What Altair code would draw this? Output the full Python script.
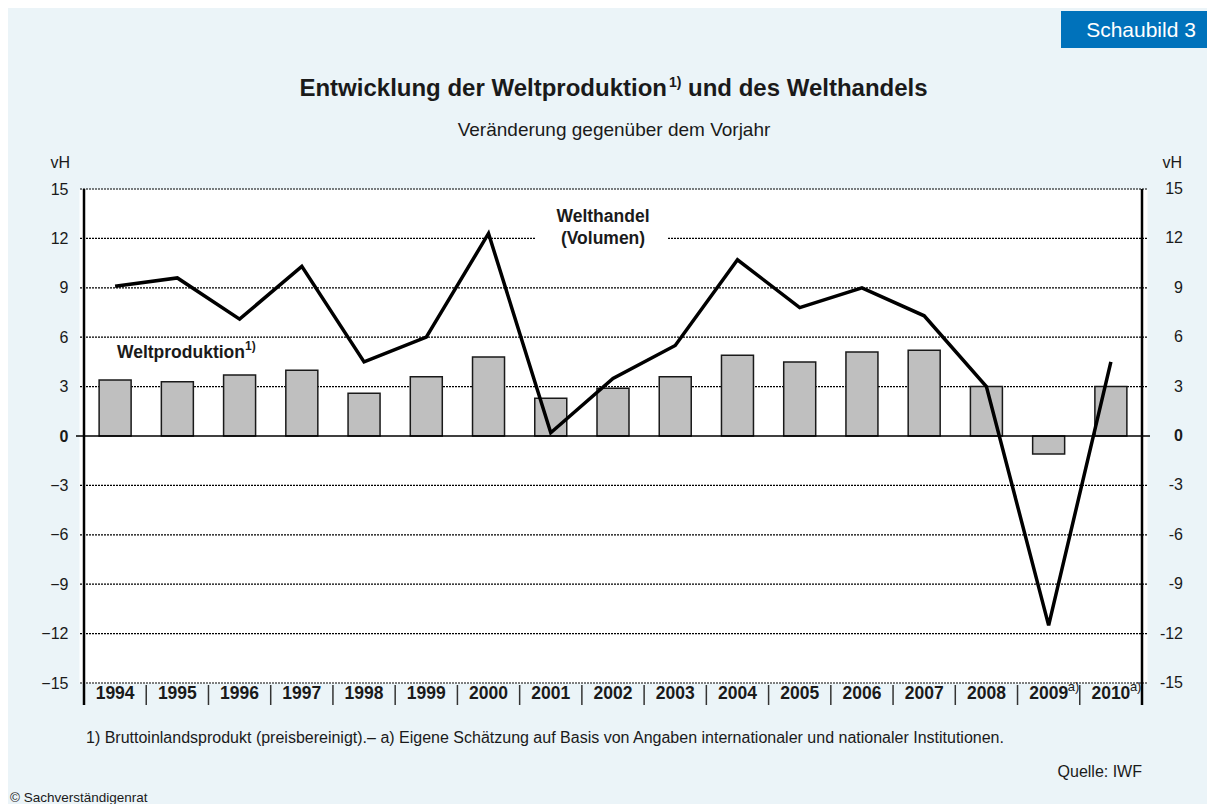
import altair as alt
import pandas as pd

# ---------------- data ----------------
years = list(range(1994, 2011))
year_labels = [str(y) for y in years]
weltproduktion = [3.4, 3.3, 3.7, 4.0, 2.6, 3.6, 4.8, 2.3, 2.9, 3.6, 4.9, 4.5, 5.1, 5.2, 3.0, -1.1, 3.0]
welthandel = [9.1, 9.6, 7.1, 10.3, 4.5, 6.0, 12.3, 0.2, 3.5, 5.5, 10.7, 7.8, 9.0, 7.3, 3.0, -11.5, 4.5]
estimated_years = [2009, 2010]
y_ticks = [15, 12, 9, 6, 3, 0, -3, -6, -9, -12, -15]
grid_values = [15, 12, 9, 6, 3, -3, -6, -9, -12, -15]

FONT = "Liberation Sans"
INK = "#1a1a1a"
BG = "#EBF4F8"

df = pd.DataFrame({"year": years, "label": year_labels,
                   "prod": weltproduktion, "trade": welthandel})

xscale = alt.Scale(domain=[years[0] - 0.5, years[-1] + 0.5], nice=False, zero=False)
yscale = alt.Scale(domain=[-15, 15], nice=False, zero=False)

X = alt.X("year:Q", scale=xscale, axis=None)

# one shared left value axis, given identically to every layer that uses y
YAXIS = alt.Axis(
    values=y_ticks, title=None, domain=False, ticks=False, grid=False,
    labelPadding=11, labelFontSize=16, labelFont=FONT, labelColor=INK,
    labelOverlap=False,
    labelFontWeight=alt.expr("datum.value == 0 ? 'bold' : 'normal'"))

# gridlines (dotted)
grid = alt.Chart(pd.DataFrame({"v": grid_values})).mark_rule(
    color="black", strokeDash=[2, 1], strokeWidth=1.2
).encode(y=alt.Y("v:Q", scale=yscale, axis=YAXIS))

# gap behind the Welthandel label
label_gap = alt.Chart(pd.DataFrame({"a": [0]})).mark_rect(color="white").encode(
    x=alt.value(456), x2=alt.value(588), y=alt.value(42), y2=alt.value(57)
)

# bars (Weltproduktion)
bars = alt.Chart(df).mark_bar(
    size=32, color="#BFBFBF", stroke=INK, strokeWidth=1.5, orient="vertical"
).encode(
    x=X,
    y=alt.Y("prod:Q", scale=yscale, axis=YAXIS),
    y2=alt.datum(0),
)

# zero line
zero = alt.Chart(pd.DataFrame({"a": [0]})).mark_rule(color="black", strokeWidth=1.5).encode(
    y=alt.datum(0), x=alt.value(-3), x2=alt.value(1071)
)

# line (Welthandel)
line = alt.Chart(df).mark_line(color="black", strokeWidth=3.5, strokeJoin="miter").encode(
    x=X, y=alt.Y("trade:Q", scale=yscale, axis=YAXIS)
)

# frame left/right
borders = alt.Chart(pd.DataFrame({"x": [years[0] - 0.5, years[-1] + 0.5]})).mark_rule(
    color="black", strokeWidth=2.5
).encode(x=alt.X("x:Q", scale=xscale, axis=None), y=alt.value(0), y2=alt.value(516))

# separators between years
seps = alt.Chart(pd.DataFrame({"x": [y + 0.5 for y in years[:-1]]})).mark_rule(
    color="#333333", strokeWidth=1.5
).encode(x=alt.X("x:Q", scale=xscale, axis=None), y=alt.value(496), y2=alt.value(516))

# year labels
year_text = alt.Chart(df).mark_text(
    font=FONT, fontSize=17.5, fontWeight="bold", color=INK, baseline="alphabetic"
).encode(x=X, y=alt.value(510), text="label:N")

sup_a = alt.Chart(pd.DataFrame({"year": estimated_years})).mark_text(
    text="a)", font=FONT, fontSize=13, color=INK, align="left", dx=19, baseline="alphabetic"
).encode(x=X, y=alt.value(502))

# right axis labels
tick_df = pd.DataFrame({"v": y_ticks, "t": [str(v) for v in y_ticks]})
right_labels = alt.Chart(tick_df).transform_filter("datum.v != 0").mark_text(
    font=FONT, fontSize=16, color=INK, align="right", baseline="middle"
).encode(y=alt.Y("v:Q", scale=yscale, axis=YAXIS), x=alt.value(1104), text="t:N")
right_zero = alt.Chart(tick_df).transform_filter("datum.v == 0").mark_text(
    font=FONT, fontSize=16, fontWeight="bold", color=INK, align="right", baseline="middle"
).encode(y=alt.Y("v:Q", scale=yscale, axis=YAXIS), x=alt.value(1104), text="t:N")


def label(text, x, y, size, weight="normal", align="center", color=INK):
    return alt.Chart(pd.DataFrame({"a": [0]})).mark_text(
        text=text, font=FONT, fontSize=size, fontWeight=weight, align=align,
        baseline="alphabetic", color=color
    ).encode(x=alt.value(x), y=alt.value(y))


schaubild_box = alt.Chart(pd.DataFrame({"a": [0]})).mark_rect(color="#0072BB").encode(
    x=alt.value(982), x2=alt.value(1128), y=alt.value(-178), y2=alt.value(-141)
)

annotations = [
    schaubild_box,
    label("Schaubild 3", 1062, -152, 21, color="white"),
    label("Entwicklung der Weltproduktion", 588, -93, 24, "bold", "right"),
    label("1)", 590, -102, 14, "bold", "left"),
    label(" und des Welthandels", 609, -93, 24, "bold", "left"),
    label("Veränderung gegenüber dem Vorjahr", 535, -53, 19, "normal", "center"),
    label("vH", -9, -21, 16, "normal", "right"),
    label("vH", 1103, -21, 16, "normal", "right"),
    label("Welthandel", 524, 33, 17.5, "bold", "center"),
    label("(Volumen)", 524, 55, 17.5, "bold", "center"),
    label("Weltproduktion", 38, 169, 17.5, "bold", "left"),
    label("1)", 166, 161, 12, "bold", "left"),
    label("1) Bruttoinlandsprodukt (preisbereinigt).– a) Eigene Schätzung auf Basis von Angaben "
          "internationaler und nationaler Institutionen.", 7, 554, 16, "normal", "left"),
    label("Quelle: IWF", 1063, 588, 16, "normal", "right"),
    label("© Sachverständigenrat", -69, 613, 13.5, "normal", "left"),
]

chart = alt.layer(
    grid, label_gap, bars, zero, line, borders, seps, year_text, sup_a,
    right_labels, right_zero, *annotations
).properties(
    width=1068, height=494,
    autosize=alt.AutoSizeParams(type="none"),
    padding={"left": 71, "top": 181, "right": 60, "bottom": 121},
    background=BG,
).configure_view(fill="white", stroke="transparent")

chart.save("out.html", embed_options={"renderer": "svg", "actions": False})
